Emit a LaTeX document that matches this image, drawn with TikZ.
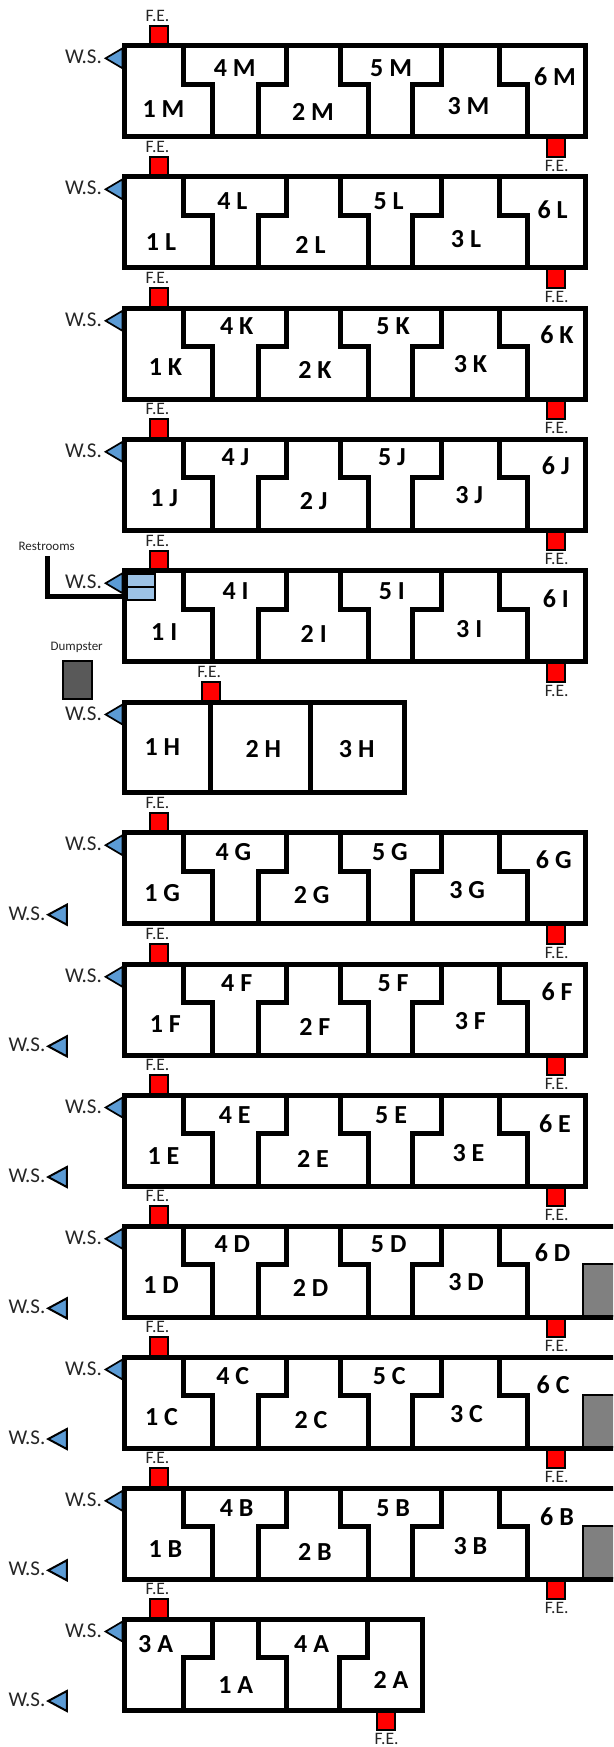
\documentclass[tikz,border=0pt]{standalone}
\usepackage{fontspec}
\setmainfont{Carlito}
\tikzset{
  wall/.style={draw=black,line width=5pt,line join=miter,line cap=butt},
  femark/.style={draw=black,fill=red,line width=2pt},
  wsmark/.style={draw=black,fill=wsblue,line width=1.7pt,line join=miter},
  roomlab/.style={inner sep=0pt,text height=16.5pt,text depth=0pt,font=\fontsize{26}{26}\selectfont\bfseries},
  felab/.style={inner sep=0pt,text height=11pt,text depth=0pt,font=\fontsize{17.5}{17.5}\selectfont,text=black!85},
  wslab/.style={inner sep=0pt,text height=13pt,text depth=0pt,font=\fontsize{21}{21}\selectfont,text=black!85},
  smalllab/.style={inner sep=0pt,text height=8.5pt,text depth=0pt,font=\fontsize{13}{13}\selectfont,text=black!85},
}
\definecolor{wsblue}{HTML}{5B9BD5}
\definecolor{rrblue}{HTML}{9DC3E6}
\definecolor{dumpgray}{HTML}{595959}
\definecolor{lotgray}{HTML}{808080}
% top FE and WS of a row, local to the row's top
\newcommand{\rowtopsigns}[2]{%
  \draw[femark] (#1-9,-20) rectangle (#1+9,0);
  \node[felab] (fet#2) at (#1-1.8,-30) {F.E.};
  \draw[wsmark] (122.5,2.5) -- (105.6,12.5) -- (122.5,22.5) -- cycle;
  \node[wslab] (ws#2) at (83.5,11.5) {W.S.};
}
\newcommand{\rowbotfe}[2]{%
  \draw[femark] (#1-9,91) rectangle (#1+9,111);
  \node[felab] (feb#2) at (#1+1,120) {F.E.};
}
% #1 top y, #2 letter, #3 x of label 1, #4 label dy, #5 right wall x
\newcommand{\sixrow}[5]{%
  \begin{scope}[shift={(0,#1)}]
    \rowtopsigns{159.3}{#2}
    \rowbotfe{555.7}{#2}
    \draw[wall] (124.9,0) -- (124.9,91) -- (#5,91) -- (#5,0) -- cycle;
    \draw[wall] (183.7,0) -- (183.7,38.3) -- (212.3,38.3) -- (212.3,91);
    \draw[wall] (286.5,0) -- (286.5,38.3) -- (258,38.3) -- (258,91);
    \draw[wall] (340,0) -- (340,38.3) -- (368.6,38.3) -- (368.6,91);
    \draw[wall] (441.8,0) -- (441.8,38.3) -- (412.8,38.3) -- (412.8,91);
    \draw[wall] (499.2,0) -- (499.2,38.3) -- (527.8,38.3) -- (527.8,91);
    \node[roomlab] (a#2) at (#3,63.3+#4) {1 #2};
    \node[roomlab] (d#2) at (#3+71.3,22.3+#4) {4 #2};
    \node[roomlab] (b#2) at (#3+149.5,66+#4) {2 #2};
    \node[roomlab] (e#2) at (#3+227.7,22.3+#4) {5 #2};
    \node[roomlab] (c#2) at (#3+305,60.3+#4) {3 #2};
    \node[roomlab] (f#2) at (#3+391.6,31+#4) {6 #2};
  \end{scope}
}
\newcommand{\lowws}[2]{%
  \begin{scope}[shift={(0,#1)}]
    \draw[wsmark,line width=2pt] (66.8,72) -- (48.2,82) -- (66.8,92) -- cycle;
    \node[wslab] (wl#2) at (27,81) {W.S.};
  \end{scope}
}
\newcommand{\lotbox}[1]{%
  \begin{scope}[shift={(0,#1)}]
    \draw[draw=black,fill=lotgray,line width=2pt] (582.7,37.8) rectangle (625,90);
  \end{scope}
}
\begin{document}
\begin{tikzpicture}[x=1pt,y=-1pt]
\useasboundingbox (0,0) rectangle (613,1747);
\clip (0,0) rectangle (613,1747);
\fill[white] (0,0) rectangle (613,1747);
\sixrow{45.8}{M}{163.4}{0}{585}
\sixrow{176.8}{L}{161}{2.5}{585}
\sixrow{308.3}{K}{165.4}{-4}{585}
\sixrow{439.3}{J}{164.2}{-4}{585}
% restroom block drawn under row I walls
\draw[line width=5pt,line join=miter] (47.7,556) -- (47.7,596.7) -- (124,596.7);
\sixrow{570.7}{I}{164.2}{-2}{585}
\draw[draw=black,fill=rrblue,line width=2pt] (127,573.5) rectangle (155.3,586.7);
\draw[draw=black,fill=rrblue,line width=2pt] (127,586.7) rectangle (155.3,600);
\node[smalllab] (restrooms) at (46.7,546) {Restrooms};
\node[smalllab] (dumpster) at (76.7,646) {Dumpster};
\draw[draw=black,fill=dumpgray,line width=2.5pt] (62.8,661) rectangle (92.2,699);
% row H
\begin{scope}[shift={(0,702)}]
  \rowtopsigns{211}{H}
  \draw[wall] (124.9,0) rectangle (404,90);
  \draw[wall] (210.7,0) -- (210.7,90);
  \draw[wall] (310,0) -- (310,90);
  \node[roomlab] (aH) at (162.3,45.3) {1 H};
  \node[roomlab] (bH) at (263.3,47) {2 H};
  \node[roomlab] (cH) at (356.7,47) {3 H};
\end{scope}
\sixrow{832.7}{G}{162.2}{-3}{585}
\sixrow{964.3}{F}{165.4}{-3}{585}
\sixrow{1095}{E}{163.4}{-2}{585}
\sixrow{1226.3}{D}{161}{-4}{625}
\sixrow{1357}{C}{161.5}{-3}{625}
\sixrow{1488.3}{B}{165.4}{-2}{625}
\lotbox{1226.3}
\lotbox{1357}
\lotbox{1488.3}
% row A
\begin{scope}[shift={(0,1619)}]
  \rowtopsigns{159.3}{A}
  \rowbotfe{385.6}{A}
  \draw[wall] (124.9,0) rectangle (422,91);
  \draw[wall] (212.3,0) -- (212.3,38.3) -- (183,38.3) -- (183,91);
  \draw[wall] (258,0) -- (258,38.3) -- (286.5,38.3) -- (286.5,91);
  \draw[wall] (367.5,0) -- (367.5,38.3) -- (339.3,38.3) -- (339.3,91);
  \node[roomlab] (cA) at (155.6,25) {3 A};
  \node[roomlab] (dA) at (311.6,25) {4 A};
  \node[roomlab] (aA) at (235.7,66) {1 A};
  \node[roomlab] (bA) at (391,61.7) {2 A};
\end{scope}
\lowws{832.7}{G}
\lowws{964.3}{F}
\lowws{1095}{E}
\lowws{1226.3}{D}
\lowws{1357}{C}
\lowws{1488.3}{B}
\lowws{1619}{A}
\end{tikzpicture}
\end{document}
